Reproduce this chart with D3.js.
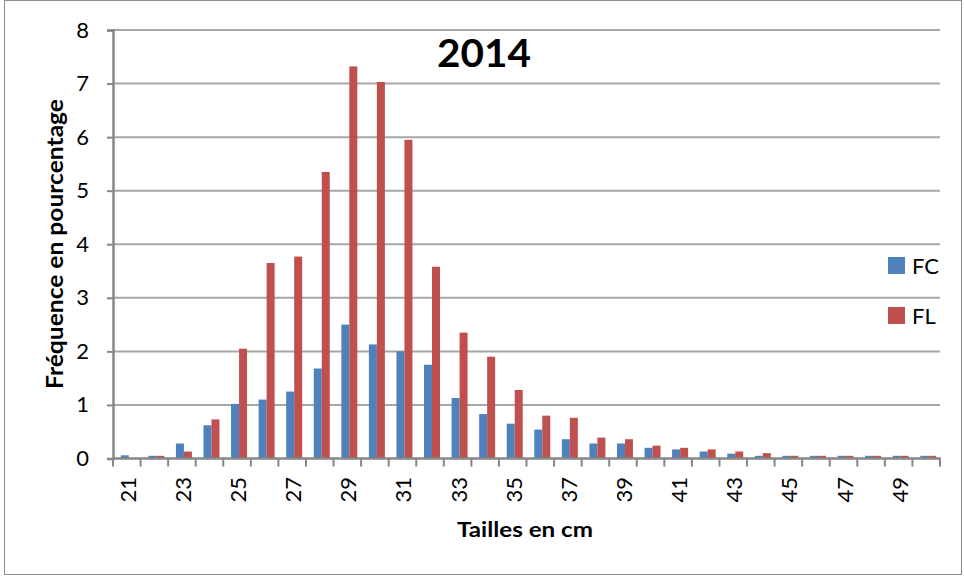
<!DOCTYPE html>
<html><head><meta charset="utf-8">
<script src="https://cdn.jsdelivr.net/npm/d3@7"></script>
<style>body{margin:0;background:#fff}svg{display:block}</style>
</head><body>
<svg id="c" width="964" height="576"></svg>
<script>
const categories = [21,22,23,24,25,26,27,28,29,30,31,32,33,34,35,36,37,38,39,40,41,42,43,44,45,46,47,48,49,50];
const seriesFC = [0.06,0.05,0.28,0.62,1.02,1.1,1.25,1.68,2.5,2.13,2.0,1.75,1.13,0.83,0.65,0.54,0.36,0.28,0.28,0.2,0.17,0.13,0.09,0.05,0.05,0.05,0.05,0.05,0.05,0.05];
const seriesFL = [0,0.05,0.13,0.73,2.05,3.65,3.77,5.35,7.32,7.03,5.95,3.58,2.35,1.9,1.28,0.8,0.76,0.39,0.36,0.24,0.2,0.17,0.13,0.1,0.05,0.05,0.05,0.05,0.05,0.05];
const seriesNames = ["FC","FL"];
const colors = ["#4F81BD","#C0504D"];
const yTicks = [0,1,2,3,4,5,6,7,8];
const xLabels = [21,23,25,27,29,31,33,35,37,39,41,43,45,47,49];
const title = "2014";
const xTitle = "Tailles en cm";
const yTitle = "Fréquence en pourcentage";

const font = "Lato, 'Open Sans', sans-serif";
const svg = d3.select("#c");
svg.append("rect").attr("x",4.5).attr("y",0.5).attr("width",957).attr("height",574)
  .attr("fill","#fff").attr("stroke","#8c8c8c").attr("stroke-width",1);

const L=113, R=940, T=30, B=458.5;
const x = d3.scaleBand().domain(categories).range([L,R]).paddingInner(0).paddingOuter(0);
const y = d3.scaleLinear().domain([0,8]).range([B,T]);
const bw = x.bandwidth()*0.29;

// grid
svg.append("g").selectAll("line").data(yTicks.filter(d=>d>0)).join("line")
  .attr("x1",L).attr("x2",R).attr("y1",d=>y(d)).attr("y2",d=>y(d))
  .attr("stroke","#a6a6a6").attr("stroke-width",2);

// bars
const data = [seriesFC, seriesFL];
data.forEach((s,i)=>{
  svg.append("g").selectAll("rect").data(categories).join("rect")
    .attr("x",(c)=>x(c)+x.bandwidth()/2 - bw + 2 + i*bw)
    .attr("width",bw)
    .attr("y",(c,j)=>y(s[j]))
    .attr("height",(c,j)=>B-y(s[j]))
    .attr("fill",colors[i]);
});

// y axis
const yAxis = d3.axisLeft(y).tickValues(yTicks).tickSize(6).tickPadding(18).tickFormat(d3.format("d"));
const gy = svg.append("g").attr("transform",`translate(${L},0)`).call(yAxis);
gy.select(".domain").attr("stroke","#868686").attr("stroke-width",2.5);
gy.selectAll(".tick line").attr("stroke","#868686").attr("stroke-width",2);
gy.selectAll(".tick text").attr("font-family",font).attr("font-size",22).attr("fill","#000");

// x axis line & ticks
svg.append("line").attr("x1",L).attr("x2",R+1).attr("y1",B).attr("y2",B)
  .attr("stroke","#868686").attr("stroke-width",2.5);
const bounds = categories.map(c=>x(c)).concat([R]);
svg.append("g").selectAll("line").data(bounds).join("line")
  .attr("x1",d=>d).attr("x2",d=>d).attr("y1",B).attr("y2",B+8)
  .attr("stroke","#868686").attr("stroke-width",2);
svg.append("g").selectAll("text").data(xLabels).join("text")
  .attr("transform",d=>`translate(${x(d)+x.bandwidth()/2+9},477) rotate(-90)`)
  .attr("text-anchor","end").attr("font-family",font).attr("font-size",22).attr("fill","#000")
  .text(d=>d);

// titles
svg.append("text").attr("x",437).attr("y",67)
  .attr("font-family",font).attr("font-weight","bold").attr("font-size",39)
  .attr("textLength",94).attr("lengthAdjust","spacingAndGlyphs").text(title);
svg.append("text").attr("x",457).attr("y",537)
  .attr("font-family",font).attr("font-weight","bold").attr("font-size",21)
  .attr("textLength",136).attr("lengthAdjust","spacingAndGlyphs").text(xTitle);
svg.append("text").attr("transform","translate(63,389) rotate(-90)")
  .attr("font-family",font).attr("font-weight","bold").attr("font-size",22)
  .attr("textLength",290).attr("lengthAdjust","spacingAndGlyphs").text(yTitle);

// legend
seriesNames.forEach((n,i)=>{
  const ly = 257 + i*50;
  svg.append("rect").attr("x",888).attr("y",ly).attr("width",17).attr("height",17).attr("fill",colors[i]);
  svg.append("text").attr("x",912).attr("y",ly+17).attr("font-family",font).attr("font-size",22).text(n);
});
</script>
</body></html>
